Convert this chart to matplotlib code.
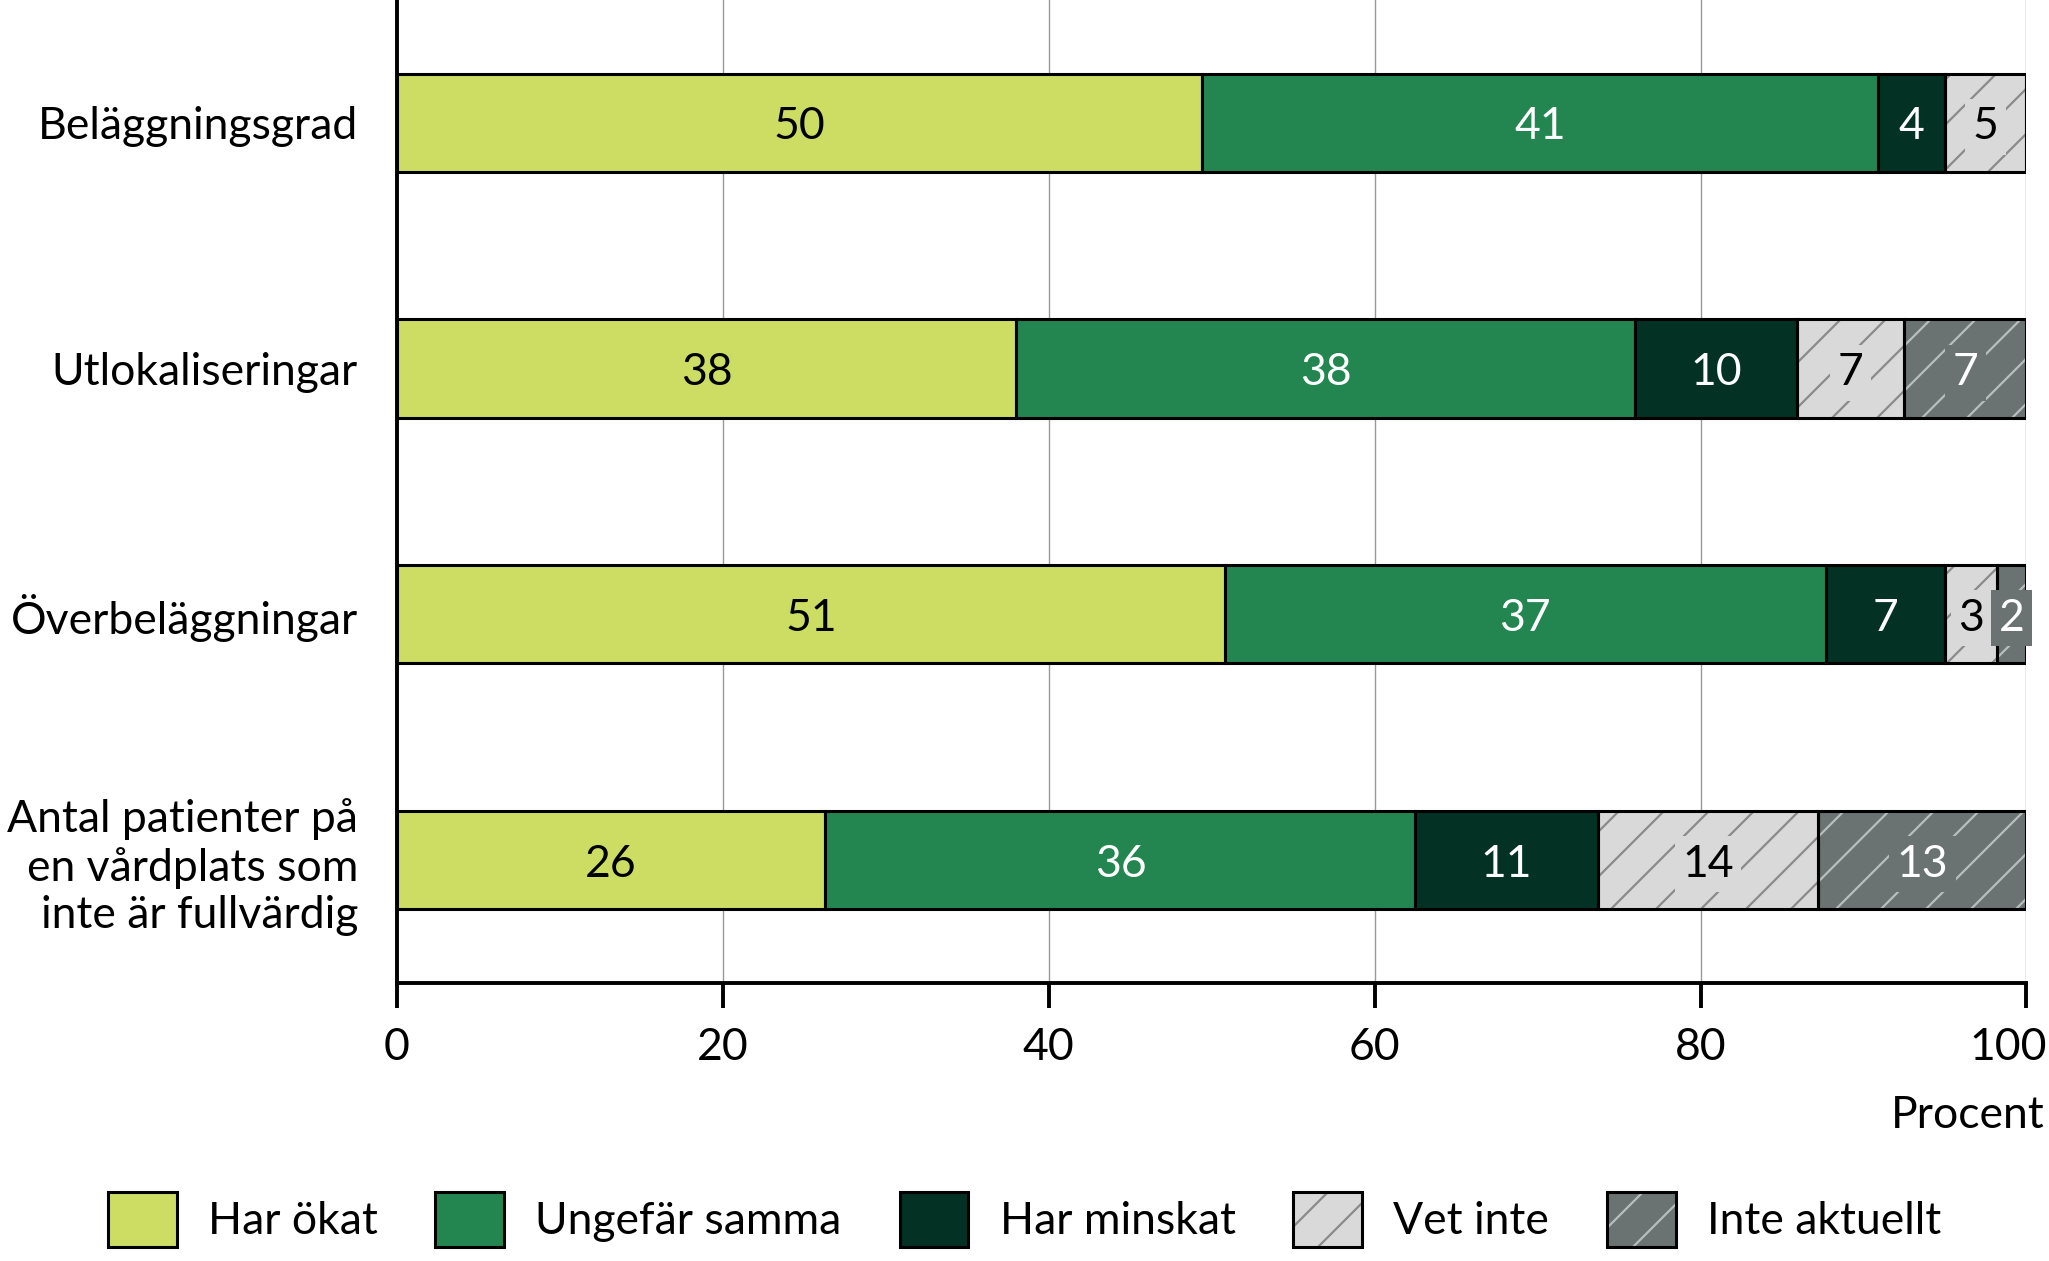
import matplotlib
matplotlib.use("Agg")
import matplotlib.pyplot as plt
import matplotlib.patches as mpatches
from matplotlib.legend_handler import HandlerTuple
from matplotlib.transforms import ScaledTranslation

# data
categories = ["Beläggningsgrad", "Utlokaliseringar", "Överbeläggningar",
              "Antal patienter på\nen vårdplats som\ninte är fullvärdig"]
series = ["Har ökat", "Ungefär samma", "Har minskat", "Vet inte", "Inte aktuellt"]
har_okat = [49.4, 38.0, 50.8, 26.3]
ungefar_samma = [41.5, 38.0, 36.9, 36.2]
har_minskat = [4.1, 9.9, 7.3, 11.2]
vet_inte = [5.0, 6.6, 3.2, 13.5]
inte_aktuellt = [0.0, 7.5, 1.8, 12.8]
label_okat = [50, 38, 51, 26]
label_samma = [41, 38, 37, 36]
label_minskat = [4, 10, 7, 11]
label_vet = [5, 7, 3, 14]
label_inte = [None, 7, 2, 13]

values = [har_okat, ungefar_samma, har_minskat, vet_inte, inte_aktuellt]
labels = [label_okat, label_samma, label_minskat, label_vet, label_inte]
colors = ["#cddd63", "#238550", "#033123", "#d9d9d9", "#6a7272"]
hatch_colors = [None, None, None, "#8a8a8a", "#b8bdbd"]
text_colors = ["black", "white", "white", "black", "white"]

DPI = 135
k = 200 / DPI  # sizes were tuned at dpi 200
plt.rcParams["font.family"] = ["Lato", "DejaVu Sans"]
plt.rcParams["hatch.linewidth"] = 0.8 * k
FS = 16 * k
LW = 1.1 * k

fig = plt.figure(figsize=(2049 / DPI, 1261 / DPI), dpi=DPI)
ax = fig.add_axes([0.1937, 0.2205, 0.7953, 0.7795])

ypos = list(range(len(categories)))
h = 0.4
left = [0.0] * len(categories)
handles = []
for i, name in enumerate(series):
    vals = values[i]
    if hatch_colors[i]:
        ax.barh(ypos, vals, h, left=left, color=colors[i], hatch="/",
                edgecolor=hatch_colors[i], linewidth=0, zorder=2)
        ax.barh(ypos, vals, h, left=left, fill=False, edgecolor="black",
                linewidth=LW, zorder=3)
        p1 = mpatches.Patch(facecolor=colors[i], hatch="/",
                            edgecolor=hatch_colors[i], linewidth=0)
        p2 = mpatches.Patch(fill=False, edgecolor="black", linewidth=LW)
        handles.append((p1, p2))
    else:
        ax.barh(ypos, vals, h, left=left, color=colors[i], edgecolor="black",
                linewidth=LW, zorder=3)
        handles.append(mpatches.Patch(facecolor=colors[i], edgecolor="black",
                                      linewidth=LW))
    for j, v in enumerate(vals):
        lab = labels[i][j]
        if lab is None or v <= 0:
            continue
        ax.text(left[j] + v / 2, ypos[j], str(lab), ha="center",
                va="center_baseline", fontsize=FS, color=text_colors[i],
                zorder=5, bbox=dict(facecolor=colors[i], edgecolor="none",
                                    pad=4))
    left = [a + b for a, b in zip(left, vals)]

ax.set_xlim(0, 100)
ax.set_ylim(3.5, -0.5)
ax.set_yticks(ypos)
ax.set_yticklabels(categories, fontsize=FS, linespacing=1.2)
ax.tick_params(axis="y", length=0, pad=14 * k)
ax.set_xticks([0, 20, 40, 60, 80, 100])
ax.tick_params(axis="x", labelsize=FS, length=9 * k, width=1.4 * k,
               pad=7 * k, direction="out")
ax.grid(axis="x", color="#999999", linewidth=0.5 * k, zorder=0)
ax.set_axisbelow(True)
for s in ["top", "right"]:
    ax.spines[s].set_visible(False)
for s in ["left", "bottom"]:
    ax.spines[s].set_linewidth(1.4 * k)

# keep "100" inside the figure
last = ax.xaxis.get_major_ticks()[-1].label1
last.set_horizontalalignment("right")
last.set_transform(last.get_transform()
                   + ScaledTranslation(20 / DPI, 0, fig.dpi_scale_trans))

fig.text(0.998, 0.115, "Procent", ha="right", va="center", fontsize=FS)

fig.legend(handles, series, loc="center", bbox_to_anchor=(0.5, 0.033),
           ncol=5, frameon=False, fontsize=FS, handlelength=1.55,
           handleheight=1.55, handletextpad=0.7, columnspacing=1.3,
           handler_map={tuple: HandlerTuple(ndivide=1, pad=0)})

fig.savefig("out.png", dpi=DPI)
